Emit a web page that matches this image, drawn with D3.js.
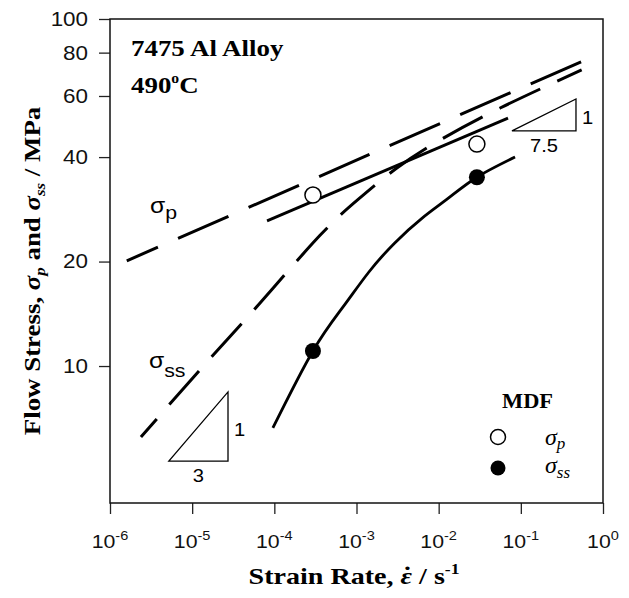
<!DOCTYPE html>
<html>
<head>
<meta charset="utf-8">
<script src="https://cdn.jsdelivr.net/npm/d3@7"></script>
<style>
  body { margin: 0; background: #fff; }
</style>
</head>
<body>
<svg id="chart" width="629" height="598"></svg>
<script>
// values: strain rate in 1/s, stress in MPa
var xTicks = [1e-6, 1e-5, 1e-4, 1e-3, 1e-2, 1e-1, 1];
var xTickExp = ["-6", "-5", "-4", "-3", "-2", "-1", "0"];
var yTicks = [10, 20, 40, 60, 80, 100];

// MDF data points
var mdfRate = [2.95e-4, 2.92e-2];
var mdfPeak = [31.1, 43.6];
var mdfSteady = [11.05, 35.0];

// model lines (dashed)
var peakModel = [[1.6e-6, 20.1], [0.57, 75.7]];
var steadyModel = [[2.38e-6, 6.24], [1.24e-5, 9.74], [6.7e-5, 15.2], [3.6e-4, 23.8],
  [1.1e-3, 30.5], [3.1e-3, 37.2], [1.04e-2, 44.8], [5.6e-2, 55.4], [0.55, 71.3]];

// fits through the MDF data (solid)
var peakFit = [[8.15e-5, 26.2], [0.0698, 51.8]];
var steadyFit = [[9.6e-5, 6.63], [2.95e-4, 11.05], [6.86e-4, 14.8], [1.4e-3, 18.6],
  [2.9e-3, 22.6], [6.2e-3, 26.6], [1.3e-2, 30.4], [2.92e-2, 35.0], [8.5e-2, 40.0]];

// slope triangles
var triRun = [[5.2e-6, 2.73e-5], [0.078, 0.469]];
var triRise = [[5.32, 8.42], [47.6, 58.8]];
var triRunLabel = ["3", "7.5"];
var triRiseLabel = ["1", "1"];

var STRETCH = 1.12;
var SERIF = "'Liberation Serif', 'Times New Roman', serif";
var SANS = "'Liberation Sans', Arial, sans-serif";

var svg = d3.select("#chart");
var margin = { top: 19, right: 26, bottom: 95, left: 110 };
var width = 629 - margin.left - margin.right;
var height = 598 - margin.top - margin.bottom;

var x = d3.scaleLog().domain([1e-6, 1]).range([0, width]);
var y = d3.scaleLog().domain([4.03, 100]).range([height, 0]);

var g = svg.append("g").attr("transform", "translate(" + margin.left + "," + margin.top + ")");

function stretch(sel) {
  sel.each(function () {
    var w = this.getComputedTextLength();
    this.setAttribute("textLength", w * STRETCH);
    this.setAttribute("lengthAdjust", "spacingAndGlyphs");
  });
  return sel;
}

// axes
var yAxis = g.append("g")
  .call(d3.axisLeft(y).tickValues(yTicks).tickSize(11).tickPadding(11).tickFormat(d3.format("d")));
yAxis.select(".domain").remove();
yAxis.selectAll(".tick line").attr("stroke", "#222").attr("stroke-width", 1.3);
yAxis.selectAll(".tick text").attr("font-family", SANS).attr("font-size", 20).attr("fill", "#111");
stretch(yAxis.selectAll(".tick text"));

var xAxis = g.append("g").attr("transform", "translate(0," + height + ")")
  .call(d3.axisBottom(x).tickValues(xTicks).tickSize(11).tickFormat(""));
xAxis.select(".domain").remove();
xAxis.selectAll(".tick line").attr("stroke", "#222").attr("stroke-width", 1.3);

var xLab = g.append("g").selectAll("text")
  .data(xTicks)
  .join("text")
  .attr("x", function (d) { return x(d); })
  .attr("y", height + 45)
  .attr("text-anchor", "middle")
  .attr("font-family", SANS)
  .attr("font-size", 19)
  .attr("fill", "#111");
xLab.append("tspan").text("10");
xLab.append("tspan").attr("font-size", 13).attr("dy", -8).text(function (d, i) { return xTickExp[i]; });
stretch(xLab);

// frame
g.append("rect")
  .attr("x", 0).attr("y", 0).attr("width", width).attr("height", height)
  .attr("fill", "none").attr("stroke", "#111").attr("stroke-width", 1.5);

var line = d3.line()
  .x(function (d) { return x(d[0]); })
  .y(function (d) { return y(d[1]); })
  .curve(d3.curveNatural);

// model lines
g.append("path").datum(peakModel)
  .attr("d", line).attr("fill", "none").attr("stroke", "#000")
  .attr("stroke-width", 3).attr("stroke-dasharray", "55,22").attr("stroke-dashoffset", 21);
g.append("path").datum(steadyModel)
  .attr("d", line).attr("fill", "none").attr("stroke", "#000")
  .attr("stroke-width", 3).attr("stroke-dasharray", "45,19").attr("stroke-dashoffset", 21);

// fits
g.append("path").datum(peakFit)
  .attr("d", line).attr("fill", "none").attr("stroke", "#000").attr("stroke-width", 2.8);
g.append("path").datum(steadyFit)
  .attr("d", line).attr("fill", "none").attr("stroke", "#000").attr("stroke-width", 2.8);

// MDF points
g.selectAll(".peak").data(mdfRate).join("circle")
  .attr("cx", function (d) { return x(d); })
  .attr("cy", function (d, i) { return y(mdfPeak[i]); })
  .attr("r", 8).attr("fill", "#fff").attr("stroke", "#000").attr("stroke-width", 1.5);
g.selectAll(".steady").data(mdfRate).join("circle")
  .attr("cx", function (d) { return x(d); })
  .attr("cy", function (d, i) { return y(mdfSteady[i]); })
  .attr("r", 8).attr("fill", "#000");

// slope triangles
triRun.forEach(function (run, i) {
  var rise = triRise[i];
  var pts = [[run[0], rise[0]], [run[1], rise[0]], [run[1], rise[1]]];
  g.append("path")
    .attr("d", "M" + pts.map(function (p) { return x(p[0]) + "," + y(p[1]); }).join("L") + "Z")
    .attr("fill", "none").attr("stroke", "#000").attr("stroke-width", 1.3);
  stretch(g.append("text")
    .attr("x", (x(run[0]) + x(run[1])) / 2)
    .attr("y", y(rise[0]) + 21)
    .attr("text-anchor", "middle")
    .attr("font-family", SANS).attr("font-size", 18)
    .text(triRunLabel[i]));
  stretch(g.append("text")
    .attr("x", x(run[1]) + 6)
    .attr("y", (y(rise[0]) + y(rise[1])) / 2 + 9)
    .attr("font-family", SANS).attr("font-size", 18)
    .text(triRiseLabel[i]));
});

// curve labels
var lp = svg.append("text").attr("x", 150).attr("y", 213)
  .attr("font-family", SANS).attr("font-size", 22);
lp.append("tspan").text("σ");
lp.append("tspan").attr("font-size", 19).attr("dy", 6).text("p");
stretch(lp);
var ls = svg.append("text").attr("x", 149).attr("y", 368)
  .attr("font-family", SANS).attr("font-size", 22);
ls.append("tspan").text("σ");
ls.append("tspan").attr("font-size", 19).attr("dy", 9).text("ss");
stretch(ls);

// alloy note
stretch(svg.append("text").attr("x", 131).attr("y", 56)
  .attr("font-family", SERIF).attr("font-weight", "bold").attr("font-size", 24)
  .text("7475 Al Alloy"));
var tc = svg.append("text").attr("x", 131).attr("y", 93)
  .attr("font-family", SERIF).attr("font-weight", "bold").attr("font-size", 24);
tc.append("tspan").text("490");
tc.append("tspan").attr("font-size", 14).attr("dy", -10).text("o");
tc.append("tspan").attr("dy", 10).text("C");
stretch(tc);

// legend
stretch(svg.append("text").attr("x", 502).attr("y", 408)
  .attr("font-family", SERIF).attr("font-weight", "bold").attr("font-size", 20)
  .text("MDF"));
svg.append("circle").attr("cx", 498).attr("cy", 437).attr("r", 7.5)
  .attr("fill", "#fff").attr("stroke", "#000").attr("stroke-width", 1.5);
svg.append("circle").attr("cx", 498).attr("cy", 468).attr("r", 7.5).attr("fill", "#000");
var lg1 = svg.append("text").attr("x", 545).attr("y", 445)
  .attr("font-family", SERIF).attr("font-style", "italic").attr("font-size", 24);
lg1.append("tspan").text("σ");
lg1.append("tspan").attr("font-size", 17).attr("dy", 4).text("p");
var lg2 = svg.append("text").attr("x", 545).attr("y", 473)
  .attr("font-family", SERIF).attr("font-style", "italic").attr("font-size", 24);
lg2.append("tspan").text("σ");
lg2.append("tspan").attr("font-size", 17).attr("dy", 5).text("ss");

// axis titles
var xt = svg.append("text").attr("x", 354).attr("y", 584)
  .attr("text-anchor", "middle")
  .attr("font-family", SERIF).attr("font-weight", "bold").attr("font-size", 24);
xt.append("tspan").text("Strain Rate, ");
xt.append("tspan").attr("font-style", "italic").text("ε");
xt.append("tspan").attr("dx", -8).attr("dy", -1).text("\u02D9");
xt.append("tspan").attr("dx", 0).attr("dy", 1).text(" / s");
xt.append("tspan").attr("font-size", 15).attr("dy", -10).text("-1");
stretch(xt);

var yt = svg.append("text")
  .attr("transform", "translate(40,271) rotate(-90)")
  .attr("text-anchor", "middle")
  .attr("font-family", SERIF).attr("font-weight", "bold").attr("font-size", 24);
yt.append("tspan").text("Flow Stress, ");
yt.append("tspan").attr("font-style", "italic").text("σ");
yt.append("tspan").attr("font-style", "italic").attr("font-size", 15).attr("dy", 5).text("p");
yt.append("tspan").attr("dy", -5).text(" and ");
yt.append("tspan").attr("font-style", "italic").text("σ");
yt.append("tspan").attr("font-style", "italic").attr("font-size", 15).attr("dy", 5).text("ss");
yt.append("tspan").attr("dy", -5).text(" / MPa");
stretch(yt);
</script>
</body>
</html>
